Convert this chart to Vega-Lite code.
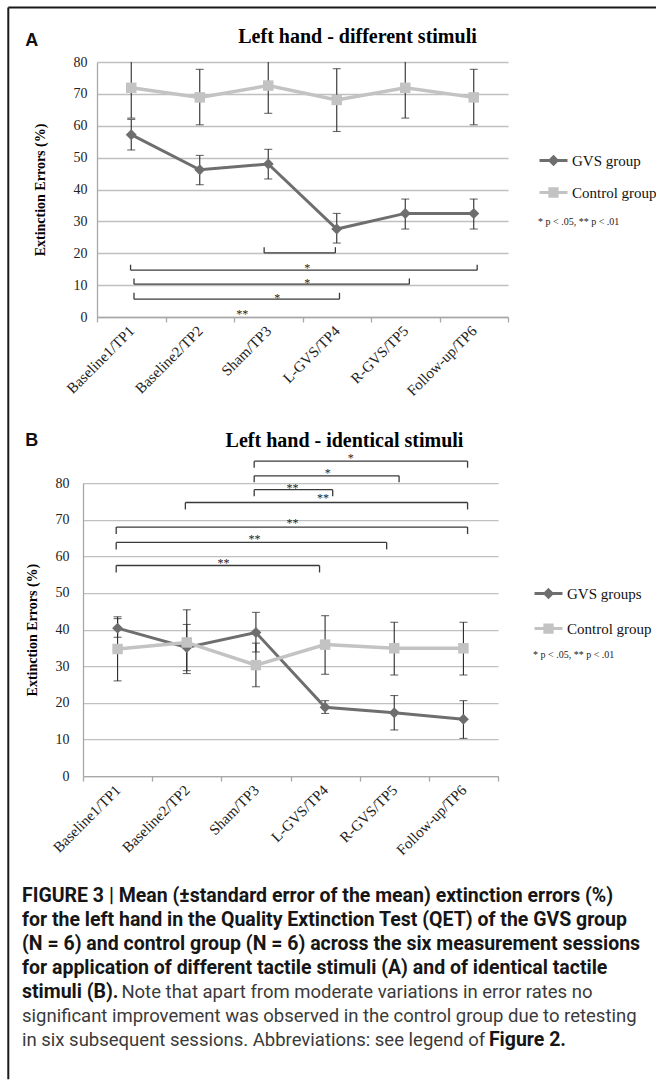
{
  "$schema": "https://vega.github.io/schema/vega-lite/v6.json",
  "background": "white",
  "padding": {"left": 7, "top": 6, "right": 0, "bottom": 0},
  "spacing": 166.1,
  "bounds": "flush",
  "config": {"view": {"stroke": null}, "text": {"font": "Liberation Serif"}},
  "datasets": {
    "a": [
      {"tp": 1, "group": "GVS group", "mean": 57.2, "lo": 52.4, "hi": 62.0},
      {"tp": 2, "group": "GVS group", "mean": 46.2, "lo": 41.5, "hi": 50.7},
      {"tp": 3, "group": "GVS group", "mean": 48.0, "lo": 43.3, "hi": 52.6},
      {"tp": 4, "group": "GVS group", "mean": 27.6, "lo": 23.2, "hi": 32.5},
      {"tp": 5, "group": "GVS group", "mean": 32.5, "lo": 27.6, "hi": 37.0},
      {"tp": 6, "group": "GVS group", "mean": 32.5, "lo": 27.6, "hi": 37.0},
      {"tp": 1, "group": "Control group", "mean": 71.9, "lo": 62.4, "hi": 81.4},
      {"tp": 2, "group": "Control group", "mean": 68.9, "lo": 60.3, "hi": 77.7},
      {"tp": 3, "group": "Control group", "mean": 72.6, "lo": 63.9, "hi": 81.3},
      {"tp": 4, "group": "Control group", "mean": 68.1, "lo": 58.2, "hi": 77.9},
      {"tp": 5, "group": "Control group", "mean": 71.9, "lo": 62.4, "hi": 81.4},
      {"tp": 6, "group": "Control group", "mean": 68.9, "lo": 60.3, "hi": 77.7}
    ],
    "b": [
      {"tp": 1, "group": "GVS groups", "mean": 40.4, "lo": 37.9, "hi": 43.0},
      {"tp": 2, "group": "GVS groups", "mean": 35.1, "lo": 28.8, "hi": 41.4},
      {"tp": 3, "group": "GVS groups", "mean": 39.2, "lo": 33.9, "hi": 44.7},
      {"tp": 4, "group": "GVS groups", "mean": 18.8, "lo": 17.1, "hi": 20.6},
      {"tp": 5, "group": "GVS groups", "mean": 17.3, "lo": 12.6, "hi": 22.0},
      {"tp": 6, "group": "GVS groups", "mean": 15.5, "lo": 10.3, "hi": 20.6},
      {"tp": 1, "group": "Control group", "mean": 34.7, "lo": 26.0, "hi": 43.5},
      {"tp": 2, "group": "Control group", "mean": 36.5, "lo": 28.0, "hi": 45.4},
      {"tp": 3, "group": "Control group", "mean": 30.3, "lo": 24.4, "hi": 36.3},
      {"tp": 4, "group": "Control group", "mean": 35.9, "lo": 27.8, "hi": 43.8},
      {"tp": 5, "group": "Control group", "mean": 34.9, "lo": 27.6, "hi": 42.0},
      {"tp": 6, "group": "Control group", "mean": 34.9, "lo": 27.6, "hi": 42.0}
    ],
    "bracketsA": [
      {"from": 2.94, "to": 3.98, "y": 20.1, "yEnd": 21.9},
      {"from": 0.99, "to": 6.05, "y": 14.7, "yEnd": 16.4},
      {"from": 1.04, "to": 5.06, "y": 10.3, "yEnd": 12.1},
      {"from": 1.04, "to": 4.04, "y": 5.6, "yEnd": 7.6}
    ],
    "starsA": [
      {"x": 3.57, "y": 16.0, "label": "*"},
      {"x": 3.57, "y": 11.3, "label": "*"},
      {"x": 3.13, "y": 6.6, "label": "*"},
      {"x": 2.62, "y": 1.7, "label": "**"}
    ],
    "bracketsB": [
      {"from": 2.975, "to": 6.06, "y": 86.0, "yEnd": 84.2},
      {"from": 2.975, "to": 5.07, "y": 82.0, "yEnd": 80.2},
      {"from": 2.975, "to": 4.11, "y": 78.2, "yEnd": 76.4},
      {"from": 1.98, "to": 6.06, "y": 74.7, "yEnd": 72.8},
      {"from": 0.98, "to": 6.06, "y": 68.0, "yEnd": 66.1},
      {"from": 0.98, "to": 4.89, "y": 63.8, "yEnd": 61.9},
      {"from": 0.98, "to": 3.92, "y": 57.5, "yEnd": 55.6}
    ],
    "starsB": [
      {"x": 4.37, "y": 87.4, "label": "*"},
      {"x": 4.04, "y": 83.4, "label": "*"},
      {"x": 3.53, "y": 79.1, "label": "**"},
      {"x": 3.97, "y": 76.4, "label": "**"},
      {"x": 3.53, "y": 69.6, "label": "**"},
      {"x": 2.98, "y": 65.2, "label": "**"},
      {"x": 2.53, "y": 58.8, "label": "**"}
    ],
    "caption": [
      {"line": 1, "kind": "bold", "text": "FIGURE 3 | Mean (±standard error of the mean) extinction errors (%)"},
      {"line": 2, "kind": "bold", "text": "for the left hand in the Quality Extinction Test (QET) of the GVS group"},
      {"line": 3, "kind": "bold", "text": "(N = 6) and control group (N = 6) across the six measurement sessions"},
      {"line": 4, "kind": "bold", "text": "for application of different tactile stimuli (A) and of identical tactile"},
      {"line": 5, "kind": "bold", "text": "stimuli (B)."},
      {"line": 5, "kind": "tail", "text": "Note that apart from moderate variations in error rates no"},
      {"line": 6, "kind": "normal", "text": "significant improvement was observed in the control group due to retesting"},
      {"line": 7, "kind": "normal", "text": "in six subsequent sessions. Abbreviations: see legend of"},
      {"line": 7, "kind": "ref", "text": "Figure 2."}
    ]
  },
  "resolve": {"scale": {"fill": "independent", "stroke": "independent", "shape": "independent"}, "legend": {"fill": "independent", "stroke": "independent", "shape": "independent"}},
  "vconcat": [
    {
      "width": 411,
      "height": 255,
      "title": {"text": "Left hand -  different stimuli", "font": "Liberation Serif", "fontSize": 20, "fontWeight": "bold", "color": "#000", "anchor": "middle", "dx": 55, "offset": -40.3},
      "layer": [
        {
          "data": {"name": "a"},
          "transform": [{"filter": "datum.group == 'GVS group'"}],
          "mark": {"type": "line", "color": "#6e6e6e", "strokeWidth": 3},
          "encoding": {
            "x": {"field": "tp", "type": "quantitative", "scale": {"domain": [0.5, 6.5], "nice": false, "zero": false},
              "axis": {"values": [0.5, 1, 1.5, 2, 2.5, 3, 3.5, 4, 4.5, 5, 5.5, 6, 6.5], "tickCount": 30,
                "labelExpr": "datum.value == 1 ? 'Baseline1/TP1' : datum.value == 2 ? 'Baseline2/TP2' : datum.value == 3 ? 'Sham/TP3' : datum.value == 4 ? 'L-GVS/TP4' : datum.value == 5 ? 'R-GVS/TP5' : datum.value == 6 ? 'Follow-up/TP6' : ''",
                "labelAngle": -45, "labelAlign": "right", "labelBaseline": "middle", "labelFont": "Liberation Serif", "labelFontSize": 15, "labelColor": "#222",
                "labelPadding": 6, "labelOverlap": false, "labelFlush": false, "grid": false, "ticks": true, "tickSize": 5,
                "tickColor": "#a8a8a8", "tickWidth": 1.3, "tickOpacity": {"condition": {"test": "datum.value % 1 == 0", "value": 0}, "value": 1},
                "domainColor": "#a8a8a8", "domainWidth": 1.3, "title": null}},
            "y": {"field": "mean", "type": "quantitative", "scale": {"domain": [0, 80], "nice": false},
              "axis": {"values": [0, 10, 20, 30, 40, 50, 60, 70, 80], "tickCount": 30, "labelOverlap": false, "grid": true, "gridColor": "#c0c0c0", "gridWidth": 1.3, "domain": true, "domainColor": "#a8a8a8", "domainWidth": 1.3,
                "ticks": false, "labelFont": "Liberation Serif", "labelFontSize": 14, "labelColor": "#222", "labelPadding": 10,
                "title": "Extinction Errors (%)", "titleFont": "Liberation Serif", "titleFontSize": 14, "titleFontWeight": "bold", "titleColor": "#000", "titlePadding": 26}}
          }
        },
        {
          "data": {"name": "a"},
          "transform": [{"filter": "datum.group == 'Control group'"}],
          "mark": {"type": "line", "color": "#c3c3c3", "strokeWidth": 3.5},
          "encoding": {"x": {"field": "tp", "type": "quantitative"}, "y": {"field": "mean", "type": "quantitative"}}
        },
        {
          "data": {"name": "a"},
          "mark": {"type": "rule", "color": "#2b2b2b", "strokeWidth": 1.1, "clip": true},
          "encoding": {"x": {"field": "tp", "type": "quantitative"}, "y": {"field": "lo", "type": "quantitative"}, "y2": {"field": "hi"}}
        },
        {
          "data": {"name": "a"},
          "mark": {"type": "tick", "orient": "horizontal", "size": 8, "thickness": 1.1, "color": "#2b2b2b", "clip": true},
          "encoding": {"x": {"field": "tp", "type": "quantitative"}, "y": {"field": "lo", "type": "quantitative"}}
        },
        {
          "data": {"name": "a"},
          "mark": {"type": "tick", "orient": "horizontal", "size": 8, "thickness": 1.1, "color": "#2b2b2b", "clip": true},
          "encoding": {"x": {"field": "tp", "type": "quantitative"}, "y": {"field": "hi", "type": "quantitative"}}
        },
        {
          "data": {"name": "a"},
          "transform": [{"filter": "datum.group == 'GVS group'"}],
          "mark": {"type": "point", "shape": "diamond", "filled": true, "size": 120, "color": "#6e6e6e", "opacity": 1},
          "encoding": {"x": {"field": "tp", "type": "quantitative"}, "y": {"field": "mean", "type": "quantitative"}}
        },
        {
          "data": {"name": "a"},
          "transform": [{"filter": "datum.group == 'Control group'"}],
          "mark": {"type": "point", "shape": "square", "filled": true, "size": 110, "color": "#c3c3c3", "opacity": 1},
          "encoding": {"x": {"field": "tp", "type": "quantitative"}, "y": {"field": "mean", "type": "quantitative"}}
        },
        {
          "data": {"name": "a"},
          "transform": [{"filter": "false"}],
          "mark": {"type": "point", "filled": true, "opacity": 1},
          "encoding": {
            "x": {"field": "tp", "type": "quantitative"},
            "y": {"field": "mean", "type": "quantitative"},
            "fill": {"field": "group", "type": "nominal", "scale": {"domain": ["GVS group", "Control group"], "range": ["#6e6e6e", "#c3c3c3"]},
              "legend": {"orient": "none", "legendX": 441, "legendY": 83, "title": "* p < .05, ** p < .01", "titleOrient": "bottom", "titleAnchor": "start", "titleFont": "Liberation Serif", "titleFontSize": 10, "titleFontWeight": "normal", "titleColor": "#222", "titlePadding": 15, "labelFont": "Liberation Serif", "labelFontSize": 15, "labelColor": "#111", "labelOffset": 3, "symbolSize": 784, "symbolStrokeWidth": 3, "rowPadding": 6, "padding": 0}},
            "stroke": {"field": "group", "type": "nominal", "scale": {"domain": ["GVS group", "Control group"], "range": ["#6e6e6e", "#c3c3c3"]},
              "legend": {"orient": "none", "legendX": 441, "legendY": 83, "title": "* p < .05, ** p < .01", "titleOrient": "bottom", "titleAnchor": "start", "titleFont": "Liberation Serif", "titleFontSize": 10, "titleFontWeight": "normal", "titleColor": "#222", "titlePadding": 15, "labelFont": "Liberation Serif", "labelFontSize": 15, "labelColor": "#111", "labelOffset": 3, "symbolSize": 784, "symbolStrokeWidth": 3, "rowPadding": 6, "padding": 0}},
            "shape": {"field": "group", "type": "nominal", "scale": {"domain": ["GVS group", "Control group"], "range": ["M-1,0H1M0,-0.26L0.26,0L0,0.26L-0.26,0Z", "M-1,0H1M-0.26,-0.26H0.26V0.26H-0.26Z"]},
              "legend": {"orient": "none", "legendX": 441, "legendY": 83, "title": "* p < .05, ** p < .01", "titleOrient": "bottom", "titleAnchor": "start", "titleFont": "Liberation Serif", "titleFontSize": 10, "titleFontWeight": "normal", "titleColor": "#222", "titlePadding": 15, "labelFont": "Liberation Serif", "labelFontSize": 15, "labelColor": "#111", "labelOffset": 3, "symbolSize": 784, "symbolStrokeWidth": 3, "rowPadding": 6, "padding": 0}}
          }
        },
        {
          "data": {"name": "bracketsA"},
          "mark": {"type": "rule", "color": "#3a3a3a", "strokeWidth": 1.3},
          "encoding": {"x": {"field": "from", "type": "quantitative"}, "x2": {"field": "to"}, "y": {"field": "y", "type": "quantitative"}}
        },
        {
          "data": {"name": "bracketsA"},
          "mark": {"type": "rule", "color": "#3a3a3a", "strokeWidth": 1.3},
          "encoding": {"x": {"field": "from", "type": "quantitative"}, "y": {"field": "y", "type": "quantitative"}, "y2": {"field": "yEnd"}}
        },
        {
          "data": {"name": "bracketsA"},
          "mark": {"type": "rule", "color": "#3a3a3a", "strokeWidth": 1.3},
          "encoding": {"x": {"field": "to", "type": "quantitative"}, "y": {"field": "y", "type": "quantitative"}, "y2": {"field": "yEnd"}}
        },
        {
          "data": {"name": "starsA"},
          "mark": {"type": "text", "font": "Liberation Serif", "fontSize": 12, "color": "#222", "baseline": "middle", "align": "center", "dy": 2},
          "encoding": {"x": {"field": "x", "type": "quantitative"}, "y": {"field": "y", "type": "quantitative"}, "text": {"field": "label"}}
        },
        {
          "data": {"values": [{"panel": "A"}]},
          "mark": {"type": "text", "font": "Liberation Sans", "fontSize": 18, "fontWeight": "bold", "color": "#111", "align": "left", "baseline": "alphabetic"},
          "encoding": {"x": {"datum": -0.547, "type": "quantitative"}, "y": {"datum": 85.1, "type": "quantitative"}, "text": {"field": "panel"}}
        },
        {
          "data": {"values": [{"edge": "top"}]},
          "mark": {"type": "rule", "color": "#1a1a1a", "strokeWidth": 2},
          "encoding": {"x": {"datum": -0.795, "type": "quantitative"}, "x2": {"datum": 8.7}, "y": {"datum": 97.09, "type": "quantitative"}}
        },
        {
          "data": {"values": [{"edge": "left"}]},
          "mark": {"type": "rule", "color": "#1a1a1a", "strokeWidth": 2},
          "encoding": {"x": {"datum": -0.795, "type": "quantitative"}, "y": {"datum": 97.09, "type": "quantitative"}, "y2": {"datum": -239.1}}
        }
      ]
    },
    {
      "width": 401,
      "height": 293,
      "title": {"text": "Left hand -  identical stimuli", "font": "Liberation Serif", "fontSize": 20, "fontWeight": "bold", "color": "#000", "anchor": "middle", "dx": 47, "offset": -19},
      "layer": [
        {
          "data": {"name": "b"},
          "transform": [{"filter": "datum.group == 'GVS groups'"}],
          "mark": {"type": "line", "color": "#6e6e6e", "strokeWidth": 3},
          "encoding": {
            "x": {"field": "tp", "type": "quantitative", "scale": {"domain": [0.5, 6.5], "nice": false, "zero": false, "range": [-14, 401]},
              "axis": {"values": [0.5, 1, 1.5, 2, 2.5, 3, 3.5, 4, 4.5, 5, 5.5, 6, 6.5], "tickCount": 30,
                "labelExpr": "datum.value == 1 ? 'Baseline1/TP1' : datum.value == 2 ? 'Baseline2/TP2' : datum.value == 3 ? 'Sham/TP3' : datum.value == 4 ? 'L-GVS/TP4' : datum.value == 5 ? 'R-GVS/TP5' : datum.value == 6 ? 'Follow-up/TP6' : ''",
                "labelAngle": -45, "labelAlign": "right", "labelBaseline": "middle", "labelFont": "Liberation Serif", "labelFontSize": 15, "labelColor": "#222",
                "labelPadding": 6, "labelOverlap": false, "labelFlush": false, "grid": false, "ticks": true, "tickSize": 5,
                "tickColor": "#a8a8a8", "tickWidth": 1.3, "tickOpacity": {"condition": {"test": "datum.value % 1 == 0", "value": 0}, "value": 1},
                "domainColor": "#a8a8a8", "domainWidth": 1.3, "title": null}},
            "y": {"field": "mean", "type": "quantitative", "scale": {"domain": [0, 80], "nice": false},
              "axis": {"values": [0, 10, 20, 30, 40, 50, 60, 70, 80], "tickCount": 30, "offset": 14, "labelOverlap": false, "grid": true, "gridColor": "#c0c0c0", "gridWidth": 1.3, "domain": true, "domainColor": "#a8a8a8", "domainWidth": 1.3,
                "ticks": false, "labelFont": "Liberation Serif", "labelFontSize": 14, "labelColor": "#222", "labelPadding": 14,
                "title": "Extinction Errors (%)", "titleFont": "Liberation Serif", "titleFontSize": 14, "titleFontWeight": "bold", "titleColor": "#000", "titlePadding": 16}}
          }
        },
        {
          "data": {"name": "b"},
          "transform": [{"filter": "datum.group == 'Control group'"}],
          "mark": {"type": "line", "color": "#c3c3c3", "strokeWidth": 3.5},
          "encoding": {"x": {"field": "tp", "type": "quantitative"}, "y": {"field": "mean", "type": "quantitative"}}
        },
        {
          "data": {"name": "b"},
          "mark": {"type": "rule", "color": "#2b2b2b", "strokeWidth": 1.1},
          "encoding": {"x": {"field": "tp", "type": "quantitative"}, "y": {"field": "lo", "type": "quantitative"}, "y2": {"field": "hi"}}
        },
        {
          "data": {"name": "b"},
          "mark": {"type": "tick", "orient": "horizontal", "size": 8, "thickness": 1.1, "color": "#2b2b2b"},
          "encoding": {"x": {"field": "tp", "type": "quantitative"}, "y": {"field": "lo", "type": "quantitative"}}
        },
        {
          "data": {"name": "b"},
          "mark": {"type": "tick", "orient": "horizontal", "size": 8, "thickness": 1.1, "color": "#2b2b2b"},
          "encoding": {"x": {"field": "tp", "type": "quantitative"}, "y": {"field": "hi", "type": "quantitative"}}
        },
        {
          "data": {"name": "b"},
          "transform": [{"filter": "datum.group == 'GVS groups'"}],
          "mark": {"type": "point", "shape": "diamond", "filled": true, "size": 120, "color": "#6e6e6e", "opacity": 1},
          "encoding": {"x": {"field": "tp", "type": "quantitative"}, "y": {"field": "mean", "type": "quantitative"}}
        },
        {
          "data": {"name": "b"},
          "transform": [{"filter": "datum.group == 'Control group'"}],
          "mark": {"type": "point", "shape": "square", "filled": true, "size": 110, "color": "#c3c3c3", "opacity": 1},
          "encoding": {"x": {"field": "tp", "type": "quantitative"}, "y": {"field": "mean", "type": "quantitative"}}
        },
        {
          "data": {"name": "b"},
          "transform": [{"filter": "false"}],
          "mark": {"type": "point", "filled": true, "opacity": 1},
          "encoding": {
            "x": {"field": "tp", "type": "quantitative"},
            "y": {"field": "mean", "type": "quantitative"},
            "fill": {"field": "group", "type": "nominal", "scale": {"domain": ["GVS groups", "Control group"], "range": ["#6e6e6e", "#c3c3c3"]},
              "legend": {"orient": "none", "legendX": 436, "legendY": 95, "title": "* p < .05, ** p < .01", "titleOrient": "bottom", "titleAnchor": "start", "titleFont": "Liberation Serif", "titleFontSize": 10, "titleFontWeight": "normal", "titleColor": "#222", "titlePadding": 12, "labelFont": "Liberation Serif", "labelFontSize": 15, "labelColor": "#111", "labelOffset": 3, "symbolSize": 784, "symbolStrokeWidth": 3, "rowPadding": 9, "padding": 0}},
            "stroke": {"field": "group", "type": "nominal", "scale": {"domain": ["GVS groups", "Control group"], "range": ["#6e6e6e", "#c3c3c3"]},
              "legend": {"orient": "none", "legendX": 436, "legendY": 95, "title": "* p < .05, ** p < .01", "titleOrient": "bottom", "titleAnchor": "start", "titleFont": "Liberation Serif", "titleFontSize": 10, "titleFontWeight": "normal", "titleColor": "#222", "titlePadding": 12, "labelFont": "Liberation Serif", "labelFontSize": 15, "labelColor": "#111", "labelOffset": 3, "symbolSize": 784, "symbolStrokeWidth": 3, "rowPadding": 9, "padding": 0}},
            "shape": {"field": "group", "type": "nominal", "scale": {"domain": ["GVS groups", "Control group"], "range": ["M-1,0H1M0,-0.26L0.26,0L0,0.26L-0.26,0Z", "M-1,0H1M-0.26,-0.26H0.26V0.26H-0.26Z"]},
              "legend": {"orient": "none", "legendX": 436, "legendY": 95, "title": "* p < .05, ** p < .01", "titleOrient": "bottom", "titleAnchor": "start", "titleFont": "Liberation Serif", "titleFontSize": 10, "titleFontWeight": "normal", "titleColor": "#222", "titlePadding": 12, "labelFont": "Liberation Serif", "labelFontSize": 15, "labelColor": "#111", "labelOffset": 3, "symbolSize": 784, "symbolStrokeWidth": 3, "rowPadding": 9, "padding": 0}}
          }
        },
        {
          "data": {"name": "bracketsB"},
          "mark": {"type": "rule", "color": "#3a3a3a", "strokeWidth": 1.3},
          "encoding": {"x": {"field": "from", "type": "quantitative"}, "x2": {"field": "to"}, "y": {"field": "y", "type": "quantitative"}}
        },
        {
          "data": {"name": "bracketsB"},
          "mark": {"type": "rule", "color": "#3a3a3a", "strokeWidth": 1.3},
          "encoding": {"x": {"field": "from", "type": "quantitative"}, "y": {"field": "y", "type": "quantitative"}, "y2": {"field": "yEnd"}}
        },
        {
          "data": {"name": "bracketsB"},
          "mark": {"type": "rule", "color": "#3a3a3a", "strokeWidth": 1.3},
          "encoding": {"x": {"field": "to", "type": "quantitative"}, "y": {"field": "y", "type": "quantitative"}, "y2": {"field": "yEnd"}}
        },
        {
          "data": {"name": "starsB"},
          "mark": {"type": "text", "font": "Liberation Serif", "fontSize": 12, "color": "#222", "baseline": "middle", "align": "center", "dy": 2},
          "encoding": {"x": {"field": "x", "type": "quantitative"}, "y": {"field": "y", "type": "quantitative"}, "text": {"field": "label"}}
        },
        {
          "data": {"values": [{"panel": "B"}]},
          "mark": {"type": "text", "font": "Liberation Sans", "fontSize": 18, "fontWeight": "bold", "color": "#111", "align": "left", "baseline": "alphabetic"},
          "encoding": {"x": {"datum": -0.335, "type": "quantitative"}, "y": {"datum": 90.0, "type": "quantitative"}, "text": {"field": "panel"}}
        }
      ]
    },
    {
      "width": 553,
      "height": 100,
      "data": {"name": "caption"},
      "layer": [
        {
          "transform": [{"filter": "datum.kind == 'bold'"}],
          "mark": {"type": "text", "font": "Roboto", "fontSize": 19.5, "fontWeight": "bold", "color": "#161616", "align": "left", "baseline": "middle"},
          "encoding": {
            "x": {"datum": 0, "type": "quantitative", "scale": {"domain": [0, 1], "range": [-75, 550]}, "axis": null},
            "y": {"field": "line", "type": "quantitative", "axis": null, "scale": {"domain": [1, 7], "range": [-45.9, 97.4]}},
            "text": {"field": "text"}
          }
        },
        {
          "transform": [{"filter": "datum.kind == 'normal'"}],
          "mark": {"type": "text", "font": "Roboto", "fontSize": 18.5, "fontWeight": "normal", "color": "#3a3a3a", "align": "left", "baseline": "middle"},
          "encoding": {
            "x": {"datum": 0, "type": "quantitative"},
            "y": {"field": "line", "type": "quantitative"},
            "text": {"field": "text"}
          }
        },
        {
          "transform": [{"filter": "datum.kind == 'tail'"}],
          "mark": {"type": "text", "font": "Roboto", "fontSize": 18.5, "fontWeight": "normal", "color": "#3a3a3a", "align": "left", "baseline": "middle"},
          "encoding": {
            "x": {"datum": 0.159, "type": "quantitative"},
            "y": {"field": "line", "type": "quantitative"},
            "text": {"field": "text"}
          }
        },
        {
          "transform": [{"filter": "datum.kind == 'ref'"}],
          "mark": {"type": "text", "font": "Roboto", "fontSize": 19.5, "fontWeight": "bold", "color": "#161616", "align": "left", "baseline": "middle"},
          "encoding": {
            "x": {"datum": 0.747, "type": "quantitative"},
            "y": {"field": "line", "type": "quantitative"},
            "text": {"field": "text"}
          }
        }
      ]
    }
  ]
}
